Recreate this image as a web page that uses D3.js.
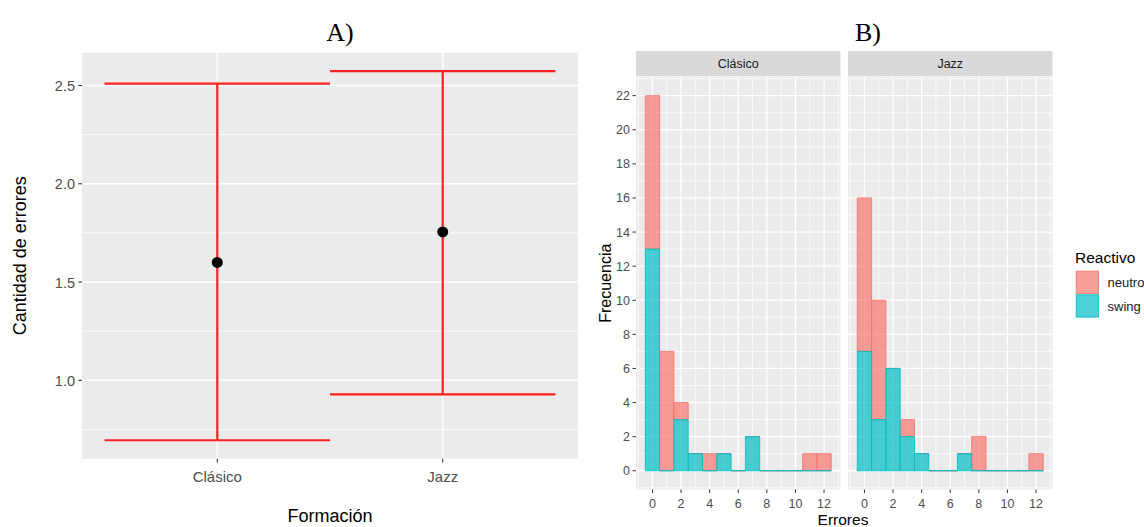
<!DOCTYPE html>
<html><head><meta charset="utf-8">
<script src="https://cdn.jsdelivr.net/npm/d3@7"></script>
<style>body{margin:0;background:#fff}svg{display:block}text{font-family:"Liberation Sans",Arial,sans-serif}text.serif{font-family:"Liberation Serif","Times New Roman",serif}</style>
</head><body>
<svg id="c" width="1144" height="527"></svg>
<script>
// ---- Panel A data
const formacion = ["Clásico", "Jazz"];
const medias = [1.60, 1.755];
const inferior = [0.695, 0.928];
const superior = [2.51, 2.573];
const ticksA = [1.0, 1.5, 2.0, 2.5];
const minorA = [0.75, 1.25, 1.75, 2.25];

// ---- Panel B data
const facetas = ["Clásico", "Jazz"];
const errores = [0, 1, 2, 3, 4, 5, 6, 7, 8, 9, 10, 11, 12];
const clasicoSwing  = [13, 0, 3, 1, 0, 1, 0, 2, 0, 0, 0, 0, 0];
const clasicoNeutro = [9, 7, 1, 0, 1, 0, 0, 0, 0, 0, 0, 1, 1];
const jazzSwing     = [7, 3, 6, 2, 1, 0, 0, 1, 0, 0, 0, 0, 0];
const jazzNeutro    = [9, 7, 0, 1, 0, 0, 0, 0, 2, 0, 0, 0, 1];
const reactivos = ["neutro", "swing"];
const ticksBx = [0, 2, 4, 6, 8, 10, 12];
const minorBx = [-1, 1, 3, 5, 7, 9, 11, 13];
const ticksBy = [0, 2, 4, 6, 8, 10, 12, 14, 16, 18, 20, 22];
const minorBy = [-1, 1, 3, 5, 7, 9, 11, 13, 15, 17, 19, 21, 23];

const colores = {neutro: "#F8766D", swing: "#00BFC4"};
const svg = d3.select("#c");
const grey = "#4D4D4D", tickCol = "#333333", panelBg = "#EBEBEB";

// ================= Panel A =================
const A = {l: 82, r: 578, t: 52.7, b: 458.7};
const lo = d3.min(inferior), hi = d3.max(superior), ex = (hi - lo) * 0.05;
const yA = d3.scaleLinear().domain([lo - ex, hi + ex]).range([A.b, A.t]);
const xA = d3.scaleLinear().domain([0.4, 2.6]).range([A.l, A.r]);
const gA = svg.append("g");
gA.append("rect").attr("x", A.l).attr("y", A.t).attr("width", A.r - A.l).attr("height", A.b - A.t).attr("fill", panelBg);
gA.selectAll(".mn").data(minorA).join("line")
  .attr("x1", A.l).attr("x2", A.r).attr("y1", d => yA(d)).attr("y2", d => yA(d))
  .attr("stroke", "#fff").attr("stroke-width", 0.8);
gA.selectAll(".mj").data(ticksA).join("line")
  .attr("x1", A.l).attr("x2", A.r).attr("y1", d => yA(d)).attr("y2", d => yA(d))
  .attr("stroke", "#fff").attr("stroke-width", 1.5);
gA.selectAll(".vx").data(formacion).join("line")
  .attr("x1", (d, i) => xA(i + 1)).attr("x2", (d, i) => xA(i + 1)).attr("y1", A.t).attr("y2", A.b)
  .attr("stroke", "#fff").attr("stroke-width", 1.5);
// error bars
formacion.forEach((f, i) => {
  const cx = xA(i + 1);
  gA.append("line").attr("x1", cx).attr("x2", cx).attr("y1", yA(inferior[i])).attr("y2", yA(superior[i]))
    .attr("stroke", "#FF2020").attr("stroke-width", 2.2);
  [inferior[i], superior[i]].forEach(v => {
    gA.append("line").attr("x1", xA(i + 0.5)).attr("x2", xA(i + 1.5)).attr("y1", yA(v)).attr("y2", yA(v))
      .attr("stroke", "#FF2020").attr("stroke-width", 2.2);
  });
});
gA.selectAll(".pt").data(medias).join("circle")
  .attr("cx", (d, i) => xA(i + 1)).attr("cy", d => yA(d)).attr("r", 5.5).attr("fill", "#000");
// axes
gA.selectAll(".ty").data(ticksA).join("line")
  .attr("x1", A.l - 3.7).attr("x2", A.l).attr("y1", d => yA(d)).attr("y2", d => yA(d)).attr("stroke", tickCol).attr("stroke-width", 1.1);
gA.selectAll(".tyl").data(ticksA).join("text")
  .attr("x", A.l - 7).attr("y", d => yA(d) + 5.5).attr("text-anchor", "end")
  .attr("font-size", 14.5).attr("fill", grey).text(d => d.toFixed(1));
gA.selectAll(".tx").data(formacion).join("line")
  .attr("x1", (d, i) => xA(i + 1)).attr("x2", (d, i) => xA(i + 1)).attr("y1", A.b).attr("y2", A.b + 3.7)
  .attr("stroke", tickCol).attr("stroke-width", 1.1);
gA.selectAll(".txl").data(formacion).join("text")
  .attr("x", (d, i) => xA(i + 1)).attr("y", A.b + 23).attr("text-anchor", "middle")
  .attr("font-size", 15).attr("fill", grey).text(d => d);
gA.append("text").attr("x", (A.l + A.r) / 2).attr("y", 522).attr("text-anchor", "middle")
  .attr("font-size", 18).attr("fill", "#000").text("Formación");
gA.append("text").attr("transform", `translate(26,${(A.t + A.b) / 2}) rotate(-90)`).attr("text-anchor", "middle")
  .attr("font-size", 18).attr("fill", "#000").text("Cantidad de errores");
gA.append("text").attr("class", "serif").attr("x", 340).attr("y", 41).attr("text-anchor", "middle")
  .attr("font-size", 26).attr("fill", "#000").text("A)");

// ================= Panel B =================
const Bt = 76.9, Bb = 489.5, stripT = 51, stripB = 76.2;
const panelsB = [{l: 636, r: 840.5, swing: clasicoSwing, neutro: clasicoNeutro},
                 {l: 848, r: 1052.5, swing: jazzSwing, neutro: jazzNeutro}];
const yB = d3.scaleLinear().domain([-1.1, 23.1]).range([Bb, Bt]);
panelsB.forEach((p, k) => {
  const g = svg.append("g");
  const xB = d3.scaleLinear().domain([-1.15, 13.15]).range([p.l, p.r]);
  g.append("rect").attr("x", p.l).attr("y", stripT).attr("width", p.r - p.l).attr("height", stripB - stripT).attr("fill", "#D9D9D9");
  g.append("text").attr("x", (p.l + p.r) / 2).attr("y", (stripT + stripB) / 2 + 4.5).attr("text-anchor", "middle")
    .attr("font-size", 12.5).attr("fill", "#1A1A1A").text(facetas[k]);
  g.append("rect").attr("x", p.l).attr("y", Bt).attr("width", p.r - p.l).attr("height", Bb - Bt).attr("fill", panelBg);
  g.selectAll(".myn").data(minorBy).join("line").attr("x1", p.l).attr("x2", p.r)
    .attr("y1", d => yB(d)).attr("y2", d => yB(d)).attr("stroke", "#fff").attr("stroke-width", 0.7);
  g.selectAll(".mxn").data(minorBx).join("line").attr("y1", Bt).attr("y2", Bb)
    .attr("x1", d => xB(d)).attr("x2", d => xB(d)).attr("stroke", "#fff").attr("stroke-width", 0.7);
  g.selectAll(".myj").data(ticksBy).join("line").attr("x1", p.l).attr("x2", p.r)
    .attr("y1", d => yB(d)).attr("y2", d => yB(d)).attr("stroke", "#fff").attr("stroke-width", 1.3);
  g.selectAll(".mxj").data(ticksBx).join("line").attr("y1", Bt).attr("y2", Bb)
    .attr("x1", d => xB(d)).attr("x2", d => xB(d)).attr("stroke", "#fff").attr("stroke-width", 1.3);
  // stacked bars: swing bottom, neutro on top (paths so zero-height bins still show their outline)
  const neutroBars = errores.map((e, i) => ({e, y0: p.swing[i], y1: p.swing[i] + p.neutro[i]}));
  const swingBars = errores.map((e, i) => ({e, y0: 0, y1: p.swing[i]}));
  const barPath = d => {
    const x0 = xB(d.e - 0.5), x1 = xB(d.e + 0.5), ya = yB(d.y0), yb = yB(d.y1);
    return `M${x0},${ya}L${x0},${yb}L${x1},${yb}L${x1},${ya}Z`;
  };
  [["neutro", neutroBars], ["swing", swingBars]].forEach(([name, bars]) => {
    g.selectAll(".b" + name).data(bars).join("path")
      .attr("d", barPath)
      .attr("fill", colores[name]).attr("fill-opacity", 0.7)
      .attr("stroke", colores[name]).attr("stroke-opacity", 0.85).attr("stroke-width", 1);
  });
  // x axis
  g.selectAll(".tx").data(ticksBx).join("line").attr("x1", d => xB(d)).attr("x2", d => xB(d))
    .attr("y1", Bb).attr("y2", Bb + 3.5).attr("stroke", tickCol).attr("stroke-width", 1);
  g.selectAll(".txl").data(ticksBx).join("text").attr("x", d => xB(d)).attr("y", Bb + 18)
    .attr("text-anchor", "middle").attr("font-size", 12.5).attr("fill", grey).text(d => d);
  if (k === 0) {
    g.selectAll(".ty").data(ticksBy).join("line").attr("x1", p.l - 3.5).attr("x2", p.l)
      .attr("y1", d => yB(d)).attr("y2", d => yB(d)).attr("stroke", tickCol).attr("stroke-width", 1);
    g.selectAll(".tyl").data(ticksBy).join("text").attr("x", p.l - 6).attr("y", d => yB(d) + 4.5)
      .attr("text-anchor", "end").attr("font-size", 12.5).attr("fill", grey).text(d => d);
  }
});
svg.append("text").attr("x", 843).attr("y", 524.5).attr("text-anchor", "middle").attr("font-size", 15.5).attr("fill", "#000").text("Errores");
svg.append("text").attr("transform", `translate(611,${(Bt + Bb) / 2}) rotate(-90)`).attr("text-anchor", "middle")
  .attr("font-size", 16).attr("fill", "#000").text("Frecuencia");
svg.append("text").attr("class", "serif").attr("x", 868).attr("y", 41).attr("text-anchor", "middle")
  .attr("font-size", 26).attr("fill", "#000").text("B)");

// legend
const lg = svg.append("g");
lg.append("text").attr("x", 1075).attr("y", 262.5).attr("font-size", 15.5).attr("fill", "#000").text("Reactivo");
reactivos.forEach((r, i) => {
  const y0 = 270.7 + i * 23.6;
  lg.append("rect").attr("x", 1075.7).attr("y", y0).attr("width", 23.3).attr("height", 23.3).attr("fill", "#fff");
  lg.append("rect").attr("x", 1076.2).attr("y", y0 + 0.5).attr("width", 22.3).attr("height", 22.3)
    .attr("fill", colores[r]).attr("fill-opacity", 0.7).attr("stroke", colores[r]).attr("stroke-opacity", 0.85).attr("stroke-width", 1);
  lg.append("text").attr("x", 1107.5).attr("y", y0 + 16.5).attr("font-size", 13).attr("fill", "#1A1A1A").text(r);
});
</script>
</body></html>
